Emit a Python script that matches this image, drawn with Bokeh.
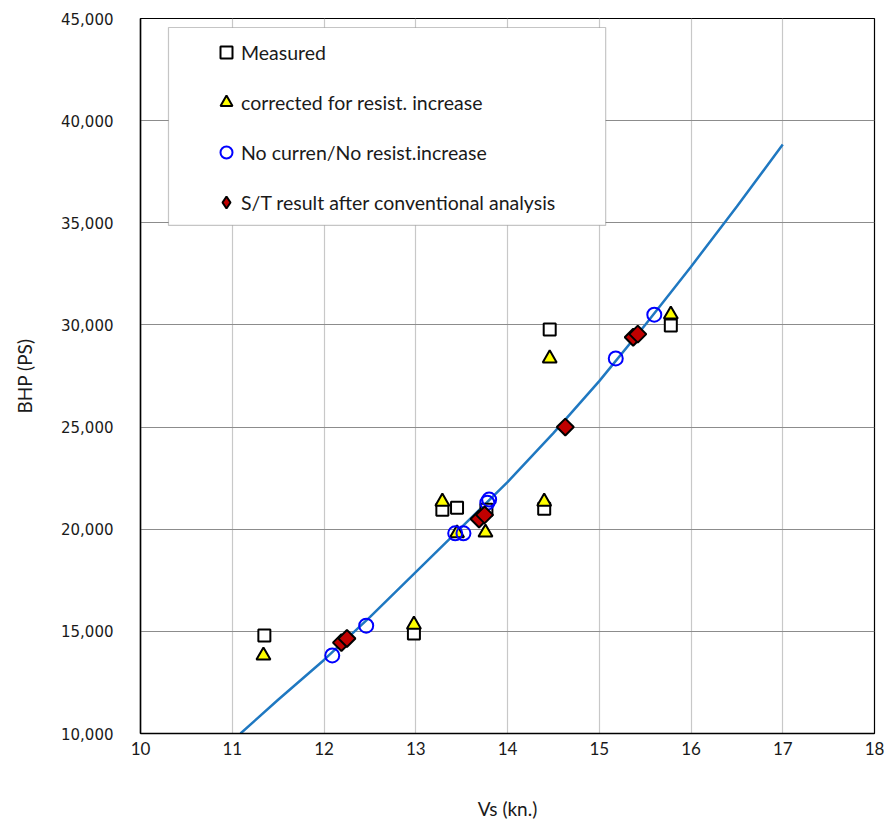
import math
from bokeh.plotting import figure
from bokeh.models import (Range1d, SingleIntervalTicker, NumeralTickFormatter,
                          Legend, LegendItem, BoxAnnotation)
from bokeh.embed import file_html
from bokeh.resources import INLINE

# ---- data ----
meas_vs = [11.35, 12.98, 13.29, 13.45, 13.77, 14.40, 14.46, 15.78]
meas_bhp = [14800, 14900, 20950, 21050, 20950, 21000, 29780, 29970]

corr_vs = [11.34, 12.98, 13.29, 13.45, 13.76, 14.40, 14.46, 15.78]
corr_bhp = [13820, 15330, 21350, 19800, 19840, 21350, 28360, 30510]

nocur_vs = [12.09, 12.46, 13.43, 13.52, 13.78, 13.80, 15.18, 15.60]
nocur_bhp = [13820, 15280, 19800, 19800, 21300, 21450, 28360, 30500]

st_vs = [12.19, 12.25, 13.69, 13.75, 14.63, 15.37, 15.42]
st_bhp = [14450, 14650, 20500, 20700, 25000, 29400, 29550]

fit_vs = [11.09, 11.5, 12.0, 12.5, 13.0, 13.5, 14.0, 14.5, 15.0, 15.5, 16.0, 16.5, 17.0]
fit_bhp = [10000, 11650, 13600, 15700, 17900, 20100, 22300, 24700, 27250, 30000, 32850, 35800, 38830]

legend_labels = ["Measured", "corrected for resist. increase",
                 "No curren/No resist.increase", "S/T result after conventional analysis"]

x_start, x_end = 10, 18
y_start, y_end = 10000, 45000

TXT = "#1a1a1a"

p = figure(width=884, height=827, output_backend="svg", toolbar_location=None,
           x_range=Range1d(x_start, x_end), y_range=Range1d(y_start, y_end),
           min_border_left=140, min_border_right=10, min_border_top=18, min_border_bottom=94)
p.background_fill_color = "white"
p.border_fill_color = "white"
p.outline_line_color = "black"
p.outline_line_width = 1.2

# axes
p.xaxis.ticker = SingleIntervalTicker(interval=1)
p.yaxis.ticker = SingleIntervalTicker(interval=5000)
p.yaxis.formatter = NumeralTickFormatter(format="0,0")
for ax in (p.xaxis[0], p.yaxis[0]):
    ax.axis_line_color = "black"
    ax.axis_line_width = 1.5
    ax.major_tick_out = 0
    ax.major_tick_in = 0
    ax.minor_tick_out = 0
    ax.minor_tick_in = 0
    ax.major_label_text_color = TXT
    ax.axis_label_text_color = TXT
    ax.axis_label_text_font_style = "normal"

p.xaxis.major_label_text_font = "Lato"
p.xaxis.major_label_text_font_size = "17px"
p.xaxis.major_label_standoff = 8
p.xaxis.axis_label = "Vs (kn.)"
p.xaxis.axis_label_text_font = "Lato"
p.xaxis.axis_label_text_font_size = "19px"
p.xaxis.axis_label_standoff = 39

p.yaxis.major_label_text_font = "DejaVu Sans"
p.yaxis.major_label_text_font_size = "15px"
p.yaxis.major_label_standoff = 27
p.yaxis.axis_label = "BHP (PS)"
p.yaxis.axis_label_text_font = "Lato"
p.yaxis.axis_label_text_font_size = "19px"
p.yaxis.axis_label_standoff = 22

p.xgrid.grid_line_color = "#c8c8c8"
p.xgrid.grid_line_width = 1.2
p.ygrid.grid_line_color = "#8c8c8c"
p.ygrid.grid_line_width = 1.2

# fitted curve
fit_r = p.line(fit_vs, fit_bhp, line_color="#1f78c1", line_width=2.5)

# series
r_meas = p.scatter(meas_vs, meas_bhp, marker="square", size=12, fill_color="white",
                   line_color="black", line_width=2)
r_corr = p.scatter(corr_vs, corr_bhp, marker="triangle", size=14, fill_color="#ffff00",
                   line_color="black", line_width=2)
r_nocur = p.scatter(nocur_vs, nocur_bhp, marker="circle", size=14, fill_color=None,
                    line_color="#0000ff", line_width=2)
# diamond-marker copy of the S/T series (gives the legend its diamond swatch;
# it is fully covered by the rotated squares drawn next)
r_st_key = p.scatter(st_vs, st_bhp, marker="diamond", size=12,
                     fill_color="#c00000", line_color="black", line_width=2)
r_st = p.scatter(st_vs, st_bhp, marker="square", angle=math.pi / 4, size=12,
                 fill_color="#c00000", line_color="black", line_width=2)

# legend frame
box = BoxAnnotation(left=10.305, right=15.07, top=44560, bottom=34870,
                    fill_color="white", fill_alpha=1.0,
                    line_color="#404040", line_width=1.2)
p.add_layout(box)

legend = Legend(items=[
    LegendItem(label=legend_labels[0], renderers=[r_meas]),
    LegendItem(label=legend_labels[1], renderers=[r_corr]),
    LegendItem(label=legend_labels[2], renderers=[r_nocur]),
    LegendItem(label=legend_labels[3], renderers=[r_st_key]),
], location=(71, 516))
legend.margin = 0
legend.padding = 0
legend.border_line_color = None
legend.background_fill_alpha = 0
legend.label_text_font = "Lato"
legend.label_text_font_size = "19.5px"
legend.label_text_color = TXT
legend.glyph_width = 30
legend.glyph_height = 30
legend.label_height = 30
legend.label_standoff = 0
legend.spacing = 20
p.add_layout(legend, "center")

open("out.html", "w").write(file_html(p, INLINE))
